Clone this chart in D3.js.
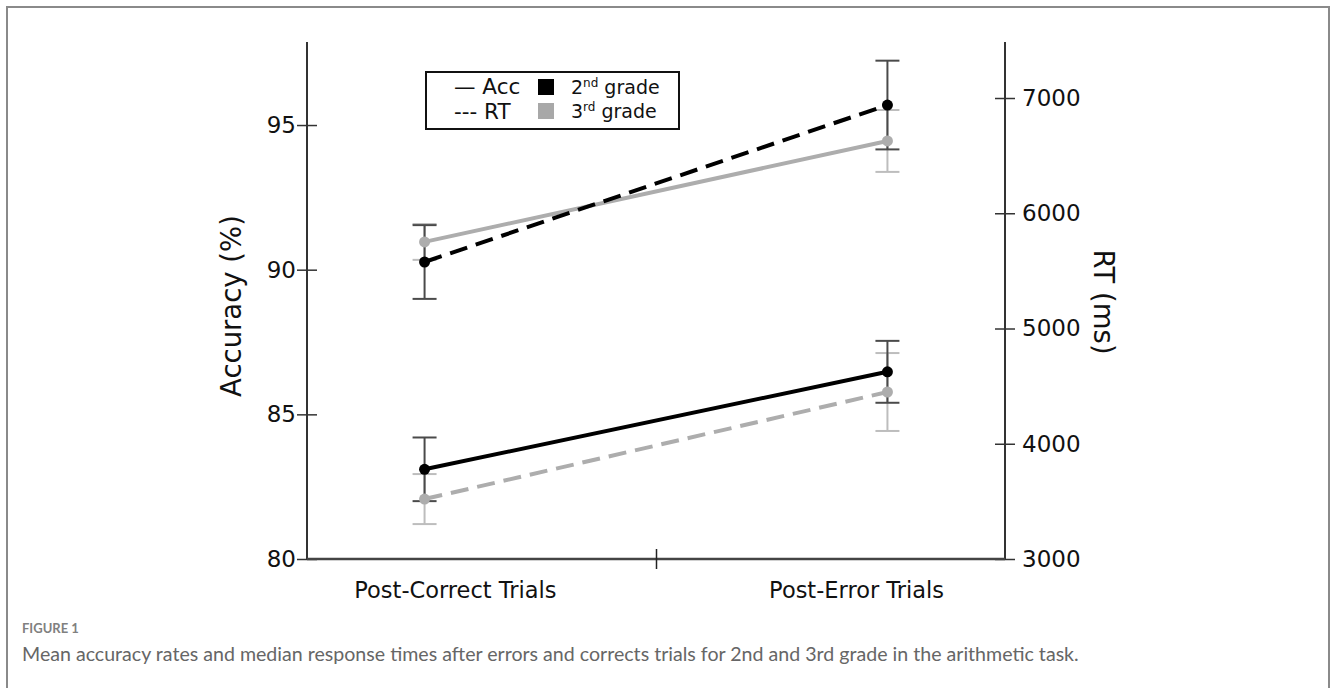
<!DOCTYPE html>
<html>
<head>
<meta charset="utf-8">
<script src="https://cdn.jsdelivr.net/npm/d3@7"></script>
<style>
  html, body { margin: 0; padding: 0; background: #fff; }
  svg { display: block; }
</style>
</head>
<body>
<svg id="chart" width="1331" height="688"></svg>
<script>
// ---- data ----
const categories = ["Post-Correct Trials", "Post-Error Trials"];
const accTicks = [80, 85, 90, 95];
const rtTicks = [3000, 4000, 5000, 6000, 7000];

const acc2nd = [83.1, 86.47];     // Accuracy, 2nd grade (black solid)
const acc2ndErr = [1.1, 1.07];
const acc3rd = [90.96, 94.45];    // Accuracy, 3rd grade (gray solid)
const acc3rdErr = [0.62, 1.07];
const rt2nd = [5577, 6939];       // RT, 2nd grade (black dashed)
const rt2ndErr = [320, 385];
const rt3rd = [3520, 4449];       // RT, 3rd grade (gray dashed)
const rt3rdErr = [217, 338];

const svg = d3.select("#chart");
const font = "'DejaVu Sans', Verdana, sans-serif";

// frame
svg.append("path")
  .attr("d", "M7,700 L7,7 L1329,7 L1329,700")
  .attr("fill", "none").attr("stroke", "#8a8a8a").attr("stroke-width", 2);

const pLeft = 307, pRight = 1005, pTop = 42, pBottom = 559;

const x = d3.scalePoint().domain(categories).range([pLeft, pRight]).padding(0.254);
const xLab = d3.scalePoint().domain(categories).range([pLeft, pRight]).padding(0.37);
const yAcc = d3.scaleLinear().domain([80, 97.87]).range([pBottom, pTop]);
const yRt = d3.scaleLinear().domain([3000, 7486]).range([pBottom, pTop]);

const axisColor = "#333";

// left axis
const gL = svg.append("g").attr("transform", `translate(${pLeft},0)`)
  .call(d3.axisLeft(yAcc).tickValues(accTicks).tickSize(10).tickSizeOuter(0).tickPadding(4));
gL.select(".domain").remove();
gL.append("line").attr("y1", pTop).attr("y2", pBottom).attr("stroke", axisColor).attr("stroke-width", 2);
gL.selectAll(".tick line").attr("x2", -10).attr("x1", 10).attr("stroke", axisColor).attr("stroke-width", 1.5);
gL.selectAll(".tick text").attr("x", -11).attr("font-family", font).attr("font-size", 23).attr("fill", "#111");

// right axis
const gR = svg.append("g").attr("transform", `translate(${pRight},0)`)
  .call(d3.axisRight(yRt).tickValues(rtTicks).tickSize(10).tickSizeOuter(0).tickFormat(d3.format("d")));
gR.select(".domain").remove();
gR.append("line").attr("y1", pTop).attr("y2", pBottom).attr("stroke", axisColor).attr("stroke-width", 2);
gR.selectAll(".tick line").attr("x1", -10).attr("x2", 10).attr("stroke", axisColor).attr("stroke-width", 1.5);
gR.selectAll(".tick text").attr("x", 17).attr("font-family", font).attr("font-size", 23).attr("fill", "#111");

// bottom axis
svg.append("line").attr("x1", pLeft).attr("x2", pRight).attr("y1", pBottom).attr("y2", pBottom)
  .attr("stroke", "#444").attr("stroke-width", 2.5);
svg.append("line").attr("x1", (pLeft + pRight) / 2 + 0.5).attr("x2", (pLeft + pRight) / 2 + 0.5)
  .attr("y1", pBottom - 10).attr("y2", pBottom + 10).attr("stroke", "#222").attr("stroke-width", 1.5);
svg.selectAll("text.cat").data(categories).join("text")
  .attr("class", "cat")
  .attr("x", d => xLab(d)).attr("y", 598)
  .attr("text-anchor", "middle").attr("font-family", font).attr("font-size", 22.5).attr("fill", "#111")
  .text(d => d);

// axis titles
svg.append("text")
  .attr("transform", `translate(241,306) rotate(-90)`)
  .attr("text-anchor", "middle").attr("font-family", font).attr("font-size", 27.5).attr("fill", "#111")
  .text("Accuracy (%)");
svg.append("text")
  .attr("transform", `translate(1094,302) rotate(90)`)
  .attr("text-anchor", "middle").attr("font-family", font).attr("font-size", 27.5).attr("fill", "#111")
  .text("RT (ms)");

// series
const series = [
  { vals: rt3rd, err: rt3rdErr, y: yRt, color: "#adadad", errColor: "#bdbdbd", dash: "18,9" },
  { vals: acc3rd, err: acc3rdErr, y: yAcc, color: "#adadad", errColor: "#bdbdbd", dash: null },
  { vals: acc2nd, err: acc2ndErr, y: yAcc, color: "#000", errColor: "#4a4a4a", dash: null },
  { vals: rt2nd, err: rt2ndErr, y: yRt, color: "#000", errColor: "#4a4a4a", dash: "18,9" },
];

// error bars first
series.forEach(s => {
  const g = svg.append("g");
  categories.forEach((c, i) => {
    const cx = x(c);
    const y1 = s.y(s.vals[i] - s.err[i]), y2 = s.y(s.vals[i] + s.err[i]);
    g.append("line").attr("x1", cx).attr("x2", cx).attr("y1", y1).attr("y2", y2)
      .attr("stroke", s.errColor).attr("stroke-width", 2);
    [y1, y2].forEach(yy => g.append("line").attr("x1", cx - 12).attr("x2", cx + 12)
      .attr("y1", yy).attr("y2", yy).attr("stroke", s.errColor).attr("stroke-width", 2));
  });
});

// lines and points
series.forEach(s => {
  const line = d3.line().x((d, i) => x(categories[i])).y(d => s.y(d));
  svg.append("path").datum(s.vals).attr("d", line)
    .attr("fill", "none").attr("stroke", s.color).attr("stroke-width", 4)
    .attr("stroke-dasharray", s.dash);
  svg.selectAll(null).data(s.vals).join("circle")
    .attr("cx", (d, i) => x(categories[i])).attr("cy", d => s.y(d)).attr("r", 5.5)
    .attr("fill", s.color);
});

// legend
const lg = svg.append("g");
lg.append("rect").attr("x", 426).attr("y", 72).attr("width", 253).attr("height", 57)
  .attr("fill", "#fff").attr("stroke", "#111").attr("stroke-width", 2);
lg.append("text").attr("x", 454).attr("y", 94).attr("font-family", font).attr("font-size", 21.5).attr("fill", "#111").text("— Acc");
lg.append("text").attr("x", 454).attr("y", 119).attr("font-family", font).attr("font-size", 21.5).attr("fill", "#111").text("--- RT");
lg.append("rect").attr("x", 538).attr("y", 79).attr("width", 16).attr("height", 16).attr("fill", "#000");
lg.append("rect").attr("x", 538).attr("y", 103).attr("width", 16).attr("height", 16).attr("fill", "#a8a8a8");
const t2 = lg.append("text").attr("x", 571).attr("y", 94).attr("font-family", font).attr("font-size", 19).attr("fill", "#111");
t2.append("tspan").text("2");
t2.append("tspan").attr("font-size", 12).attr("dy", -7).text("nd");
t2.append("tspan").attr("dy", 7).text(" grade");
const t3 = lg.append("text").attr("x", 571).attr("y", 118).attr("font-family", font).attr("font-size", 19).attr("fill", "#111");
t3.append("tspan").text("3");
t3.append("tspan").attr("font-size", 12).attr("dy", -7).text("rd");
t3.append("tspan").attr("dy", 7).text(" grade");

// caption
svg.append("text").attr("x", 22).attr("y", 633).attr("font-family", "Lato, sans-serif")
  .attr("font-size", 13).attr("font-weight", "bold").attr("fill", "#808080").text("FIGURE 1");
svg.append("text").attr("x", 22).attr("y", 661).attr("font-family", "Lato, sans-serif")
  .attr("font-size", 19.6).attr("fill", "#666")
  .text("Mean accuracy rates and median response times after errors and corrects trials for 2nd and 3rd grade in the arithmetic task.");
</script>
</body>
</html>
